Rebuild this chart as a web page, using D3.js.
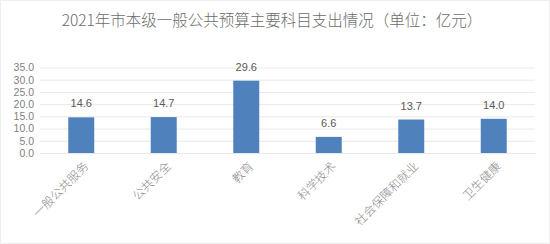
<!DOCTYPE html>
<html><head><meta charset="utf-8">
<script src="https://cdn.jsdelivr.net/npm/d3@7"></script>
<style>body{margin:0;background:#fff}svg{display:block}</style>
</head><body>
<script>
const categories = ["一般公共服务","公共安全","教育","科学技术","社会保障和就业","卫生健康"];
const values = [14.6, 14.7, 29.6, 6.6, 13.7, 14.0];
const yTicks = [0,5,10,15,20,25,30,35];
const title = "2021年市本级一般公共预算主要科目支出情况（单位：亿元）";

const W = 550, H = 244;
const m = {left:40, right:15, top:67.5, bottom:91};
const font = "'Noto Sans CJK SC','Noto Sans',sans-serif";
const numFont = "'Liberation Sans','DejaVu Sans',sans-serif";
const svg = d3.select("body").append("svg").attr("width",W).attr("height",H);
svg.append("rect").attr("x",0.5).attr("y",0.5).attr("width",W-1).attr("height",H-1)
  .attr("fill","#fff").attr("stroke","#eeeeee");

const x = d3.scaleBand().domain(categories).range([m.left, W-m.right]).paddingInner(0.685).paddingOuter(0.3425);
const y = d3.scaleLinear().domain([0,35]).range([H-m.bottom, m.top]);

svg.append("text").attr("x",272).attr("y",26).attr("text-anchor","middle")
  .attr("font-family",font).attr("font-size",15.5).attr("font-weight",300).attr("fill","#6b6b6b").text(title);

const yAxis = svg.append("g").attr("transform",`translate(${m.left},0)`)
  .call(d3.axisLeft(y).tickValues(yTicks).tickFormat(d3.format(".1f")).tickSize(-(W-m.left-m.right)).tickPadding(6));
yAxis.select(".domain").remove();
yAxis.selectAll(".tick line").attr("stroke","#e8e8e8");
yAxis.selectAll(".tick text").attr("font-family",numFont).attr("font-size",10.5).attr("fill","#7f7f7f");

svg.selectAll("rect.bar").data(values).join("rect").attr("class","bar")
  .attr("x",(d,i)=>x(categories[i])).attr("width",x.bandwidth())
  .attr("y",d=>y(d)).attr("height",d=>y(0)-y(d)).attr("fill","#4f81bd");

svg.selectAll("text.val").data(values).join("text").attr("class","val")
  .attr("x",(d,i)=>x(categories[i])+x.bandwidth()/2).attr("y",d=>y(d)-10)
  .attr("text-anchor","middle").attr("font-family",numFont).attr("font-size",11).attr("fill","#595959")
  .text(d=>d.toFixed(1));

const xAxis = svg.append("g").attr("transform",`translate(0,${y(0)})`)
  .call(d3.axisBottom(x).tickSize(0).tickPadding(0));
xAxis.select(".domain").attr("stroke","#e8e8e8");
xAxis.selectAll(".tick text").attr("font-family",font).attr("font-size",12).attr("font-weight",300).attr("fill","#8a8a8a")
  .attr("text-anchor","end").attr("dy",null)
  .attr("transform","translate(8,14) rotate(-45)");
</script>
</body></html>
